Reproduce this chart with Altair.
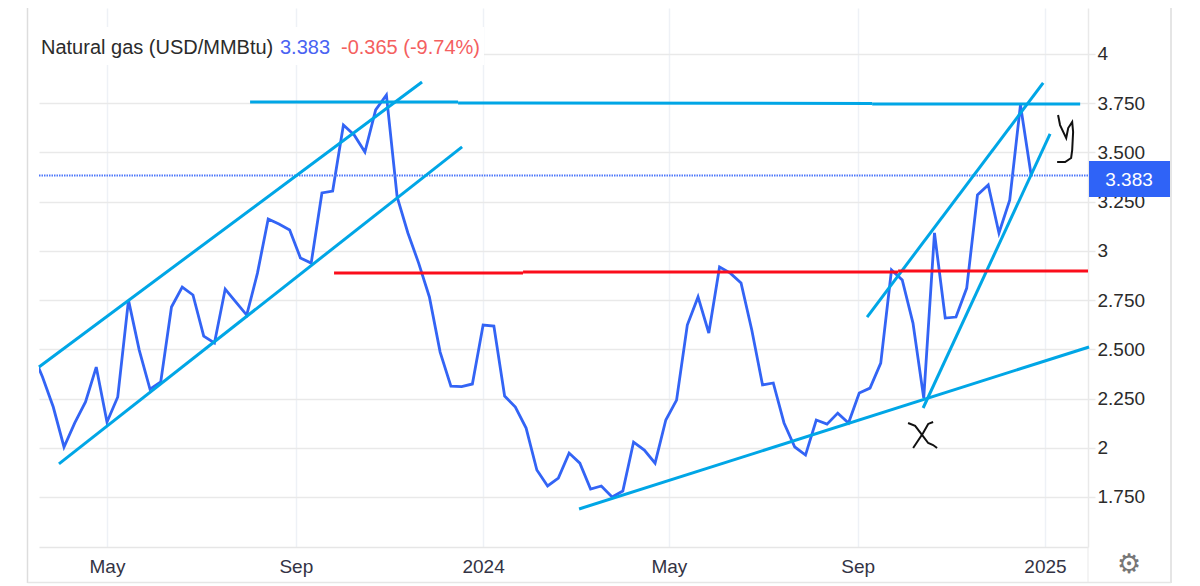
import altair as alt
import pandas as pd

# Weekly natural gas price
first_week = "2023-03-13"
prices = [
    2.49, 2.359, 2.207, 2.004, 2.126, 2.233, 2.410,
    2.131, 2.258, 2.750, 2.496, 2.298, 2.334, 2.715, 2.816, 2.776, 2.567,
    2.532, 2.806, 2.740, 2.674, 2.887, 3.162, 3.136, 3.106, 2.964, 2.938,
    3.294, 3.304, 3.639, 3.589, 3.502, 3.716, 3.792, 3.274, 3.091, 2.938,
    2.766, 2.486, 2.313, 2.311, 2.324, 2.623, 2.618, 2.263, 2.207, 2.100,
    1.887, 1.806, 1.846, 1.973, 1.922, 1.790, 1.806, 1.750, 1.780, 2.029,
    1.988, 1.922, 2.141, 2.242, 2.623, 2.766, 2.583, 2.918, 2.887, 2.837,
    2.598, 2.319, 2.329, 2.126, 2.004, 1.963, 2.141, 2.120, 2.176, 2.126,
    2.278, 2.303, 2.430, 2.903, 2.852, 2.633, 2.252, 3.091, 2.659, 2.664,
    2.811, 3.284, 3.335, 3.091, 3.258, 3.741, 3.383,
]
last_price = 3.383

# Drawn annotations: days after 1 May 2023, and price
anchor = "2023-05-01"
cyan_lines = {
    "upper_left": ([-44.3, 205.2], [2.410, 3.858]),
    "lower_left": ([-31.3, 231.3], [1.918, 3.528]),
    "top_a": ([93.2, 228.7], [3.756, 3.756]),
    "top_b": ([228.7, 498.4], [3.751, 3.749]),
    "top_c": ([498.4, 633.9], [3.746, 3.746]),
    "long_support": ([307.5, 639.7], [1.689, 2.512]),
    "upper_right": ([495.1, 609.8], [2.664, 3.853]),
    "lower_right": ([531.6, 614.3], [2.202, 3.594]),
}
red_lines = {
    "red_a": ([147.9, 271.0], [2.888, 2.888]),
    "red_b": ([271.0, 515.3], [2.893, 2.893]),
    "red_c": ([515.3, 639.0], [2.898, 2.898]),
}
ink_lines = {
    "x_a": ([521.8, 526.4, 530.9, 534.9, 538.1, 540.7], [2.126, 2.111, 2.065, 2.024, 2.014, 1.999]),
    "x_b": ([538.1, 534.9, 531.6, 527.7, 525.1], [2.131, 2.121, 2.075, 2.029, 1.999]),
    "y_a": (
        [619.5, 620.8, 624.8, 626.1, 628.7, 629.3, 628.7, 628.0, 624.1, 618.9],
        [3.690, 3.639, 3.573, 3.624, 3.655, 3.604, 3.512, 3.472, 3.451, 3.451],
    ),
}

y_ticks = [1.75, 2, 2.25, 2.5, 2.75, 3, 3.25, 3.5, 3.75, 4]
x_ticks = [(2023, 5), (2023, 9), (2024, 1), (2024, 5), (2024, 9), (2025, 1)]
title_parts = ["Natural gas (USD/MMBtu)", "3.383", "-0.365 (-9.74%)"]
title_colors = ["#2b2b2b", "#4a63f2", "#f4605f"]
title_x = [2, 241, 302]

FONT = "Liberation Sans"
BLUE = "#3364f5"
CYAN = "#00a6e6"
RED = "#fb0d1b"


def iso(stamp):
    return stamp.strftime("%Y-%m-%dT%H:%M:%S")


price_df = pd.DataFrame({
    "date": [iso(pd.Timestamp(first_week) + pd.Timedelta(weeks=i)) for i in range(len(prices))],
    "price": prices,
})


def tidy(lines):
    rows = []
    for name, (days, vals) in lines.items():
        for order, (d, v) in enumerate(zip(days, vals)):
            rows.append({
                "name": name,
                "order": order,
                "date": iso(pd.Timestamp(anchor) + pd.Timedelta(days=d)),
                "price": v,
            })
    return pd.DataFrame(rows)


x_scale = alt.Scale(
    domain=[
        alt.DateTime(year=2023, month=3, date=17, hours=17),
        alt.DateTime(year=2025, month=1, date=29),
    ]
)
y_scale = alt.Scale(domain=[1.496, 4.2336], nice=False, zero=False)

x_enc = alt.X(
    "date:T",
    scale=x_scale,
    title=None,
    axis=alt.Axis(
        values=[alt.DateTime(year=y, month=m, date=1) for y, m in x_ticks],
        labelExpr="month(datum.value) == 0 ? timeFormat(datum.value, '%Y') : timeFormat(datum.value, '%b')",
        grid=True,
        gridColor="#eef1f6",
        gridWidth=1.5,
        ticks=False,
        domain=True,
        domainColor="#e6e6e6",
        domainWidth=1.5,
        labelFont=FONT,
        labelFontSize=19,
        labelColor="#333344",
        labelPadding=10,
        labelFlush=False,
        labelOverlap=False,
    ),
)
y_enc = alt.Y(
    "price:Q",
    scale=y_scale,
    title=None,
    axis=alt.Axis(
        orient="right",
        values=y_ticks,
        labelExpr="datum.value % 1 == 0 ? format(datum.value, 'd') : format(datum.value, '.3f')",
        grid=True,
        gridColor="#e9e9e9",
        gridWidth=1.5,
        ticks=True,
        tickColor="#e9e9e9",
        tickSize=7,
        tickWidth=1.5,
        domain=True,
        domainColor="#e9e9e9",
        domainWidth=1.5,
        labelFont=FONT,
        labelFontSize=19,
        labelColor="#2b2b2b",
        labelPadding=2,
        labelOverlap=False,
    ),
)


def overlay(lines, color, width):
    return (
        alt.Chart(tidy(lines))
        .mark_line(color=color, strokeWidth=width)
        .encode(
            x=alt.X("date:T", scale=x_scale),
            y=alt.Y("price:Q", scale=y_scale),
            detail="name:N",
            order="order:Q",
        )
    )


one = pd.DataFrame({"n": [1]})

price_line = (
    alt.Chart(price_df)
    .mark_line(color=BLUE, strokeWidth=2.8, clip=True)
    .encode(x=x_enc, y=y_enc)
)

last_rule = (
    alt.Chart(pd.DataFrame({"price": [last_price]}))
    .mark_rule(color="#4f78fa", strokeWidth=2, strokeDash=[1.5, 1])
    .encode(y=alt.Y("price:Q", scale=y_scale))
)

title_mask = (
    alt.Chart(one)
    .mark_rect(color="white")
    .encode(x=alt.value(0), x2=alt.value(445), y=alt.value(19), y2=alt.value(57))
)

title_df = pd.DataFrame({"t": title_parts, "c": title_colors, "px": title_x})
title_text = (
    alt.Chart(title_df)
    .mark_text(font=FONT, fontSize=20, align="left", baseline="middle")
    .encode(
        x=alt.X("px:Q", scale=None),
        y=alt.value(40),
        text="t:N",
        color=alt.Color("c:N", scale=None),
    )
)

tag_rect = (
    alt.Chart(one)
    .mark_rect(color="#2f63f7")
    .encode(x=alt.value(1050), x2=alt.value(1131), y=alt.value(153), y2=alt.value(189))
)
tag_text = (
    alt.Chart(pd.DataFrame({"t": [f"{last_price:.3f}"]}))
    .mark_text(font=FONT, fontSize=19, color="white", align="center", baseline="middle")
    .encode(x=alt.value(1090), y=alt.value(172), text="t:N")
)

gear = (
    alt.Chart(pd.DataFrame({"t": ["\u2699"]}))
    .mark_text(font="DejaVu Sans", fontSize=27, color="#777777", align="center", baseline="middle")
    .encode(x=alt.value(1090), y=alt.value(557), text="t:N")
)

frame_color = "#dddddd"
frame_left = alt.Chart(one).mark_rule(color=frame_color, strokeWidth=1.5).encode(
    x=alt.value(-11.5), y=alt.value(0), y2=alt.value(575)
)
frame_right = alt.Chart(one).mark_rule(color=frame_color, strokeWidth=1.5).encode(
    x=alt.value(1132), y=alt.value(0), y2=alt.value(575)
)
frame_bottom = alt.Chart(one).mark_rule(color="#e6e6e6", strokeWidth=1.5).encode(
    x=alt.value(-11.5), x2=alt.value(1132), y=alt.value(574.5)
)
axis_right_ext = alt.Chart(one).mark_rule(color="#e9e9e9", strokeWidth=1).encode(
    x=alt.value(1049), y=alt.value(539), y2=alt.value(574)
)

chart = alt.layer(
    price_line,
    last_rule,
    title_mask,
    title_text,
    overlay(cyan_lines, CYAN, 3),
    overlay(red_lines, RED, 3),
    overlay(ink_lines, "#111111", 2),
    tag_rect,
    tag_text,
    gear,
    frame_left,
    frame_right,
    frame_bottom,
    axis_right_ext,
).properties(
    width=1049,
    height=539,
    autosize=alt.AutoSizeParams(type="none"),
    padding={"left": 31, "top": 0, "right": 84, "bottom": 37},
).configure_view(stroke=None)

chart.save("out.html", embed_options={"renderer": "svg", "actions": False})
